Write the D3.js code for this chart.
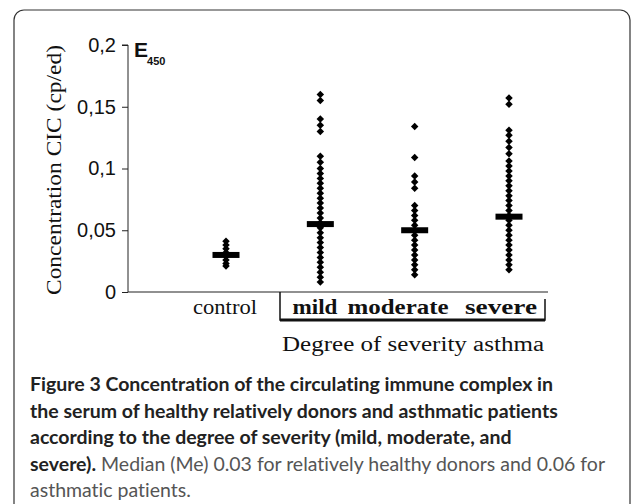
<!DOCTYPE html>
<html>
<head>
<meta charset="utf-8">
<script src="https://cdn.jsdelivr.net/npm/d3@7"></script>
<style>
  body { margin: 0; background: #fff; }
  svg { display: block; }
</style>
</head>
<body>
<div id="chart"></div>
<script>
// groups on the x axis
var groups = ["control", "mild", "moderate", "severe"];

// individual values
var control = [0.041, 0.038, 0.035, 0.032, 0.029, 0.026, 0.023, 0.021];
var mild = [0.16, 0.155, 0.14, 0.135, 0.13, 0.11, 0.105, 0.1, 0.096, 0.092, 0.088,
  0.084, 0.08, 0.076, 0.072, 0.068, 0.064, 0.06, 0.056, 0.052, 0.048, 0.044,
  0.04, 0.036, 0.032, 0.028, 0.024, 0.02, 0.016, 0.012, 0.008];
var moderate = [0.134, 0.109, 0.094, 0.089, 0.084, 0.07, 0.066, 0.062, 0.058,
  0.054, 0.05, 0.046, 0.042, 0.038, 0.034, 0.03, 0.026, 0.022, 0.018, 0.014];
var severe = [0.157, 0.152, 0.131, 0.127, 0.122, 0.117, 0.112, 0.106, 0.102,
  0.098, 0.094, 0.09, 0.086, 0.082, 0.078, 0.074, 0.07, 0.066, 0.062, 0.058,
  0.054, 0.05, 0.046, 0.042, 0.038, 0.034, 0.03, 0.026, 0.022, 0.018];

// medians drawn as crosses
var medians = [0.03, 0.055, 0.05, 0.061];

var yTicks = [0, 0.05, 0.1, 0.15, 0.2];

// label centres / widths under the axis (the source image is stretched sideways)
var labelX = [225, 315, 398, 501];
var labelW = [64, 45, 101, 72];

var series = [control, mild, moderate, severe];

var w = 635, h = 504;
var svg = d3.select("#chart").append("svg")
    .attr("width", w)
    .attr("height", h);

// frame around figure + caption
svg.append("rect")
    .attr("x", 14).attr("y", 10)
    .attr("width", 616).attr("height", 510)
    .attr("rx", 10)
    .attr("fill", "none")
    .attr("stroke", "#333")
    .attr("stroke-width", 1.2);

var y = d3.scaleLinear().domain([0, 0.2]).range([292, 45]);
var x = d3.scalePoint().domain(groups).range([226, 509]);

var yAxis = d3.axisLeft(y)
    .tickValues(yTicks)
    .tickSize(6)
    .tickPadding(6)
    .tickFormat(function(d) { return String(d).replace(".", ","); });

var gy = svg.append("g")
    .attr("transform", "translate(128,0)")
    .call(yAxis);
gy.select(".domain").attr("stroke", "#222").attr("d", "M-6,45H0V292");
gy.selectAll(".tick line").attr("stroke", "#222");
gy.selectAll("text")
    .attr("font-family", "Liberation Sans, Arial, sans-serif")
    .attr("font-size", 20)
    .attr("fill", "#111");

// x baseline
svg.append("line")
    .attr("x1", 128).attr("x2", 548)
    .attr("y1", 292).attr("y2", 292)
    .attr("stroke", "#222").attr("stroke-width", 1.2);

// box around the asthma groups
svg.append("path")
    .attr("d", "M280,292V320H545V299")
    .attr("fill", "none")
    .attr("stroke", "#111")
    .attr("stroke-width", 1.5);
svg.append("line")
    .attr("x1", 280).attr("x2", 545)
    .attr("y1", 320).attr("y2", 320)
    .attr("stroke", "#111").attr("stroke-width", 3);

// y label
svg.append("text")
    .attr("transform", "translate(61,170) rotate(-90)")
    .attr("text-anchor", "middle")
    .attr("font-family", "Liberation Serif, Times New Roman, serif")
    .attr("font-size", 21)
    .attr("textLength", 250)
    .attr("lengthAdjust", "spacingAndGlyphs")
    .attr("fill", "#111")
    .text("Concentration CIC (cp/ed)");

// E450 unit label
var e = svg.append("text")
    .attr("x", 134).attr("y", 57)
    .attr("font-family", "Liberation Sans, Arial, sans-serif")
    .attr("font-weight", "bold")
    .attr("fill", "#111");
e.append("tspan").attr("font-size", 21).text("E");
e.append("tspan").attr("dy", 8).attr("dx", -1).attr("font-size", 11).text("450");

// dots: small squares turned 45 degrees
var diamond = d3.symbol().type(d3.symbolSquare).size(28);
groups.forEach(function(g, i) {
  svg.append("g").selectAll("path")
      .data(series[i])
    .enter().append("path")
      .attr("d", diamond)
      .attr("transform", function(d) { return "translate(" + x(g) + "," + y(d) + ") rotate(45)"; })
      .attr("fill", "#000");
});

// median crosses
svg.append("g").selectAll("rect")
    .data(medians)
  .enter().append("rect")
    .attr("x", function(d, i) { return x(groups[i]) - 13.5; })
    .attr("y", function(d) { return y(d) - 3; })
    .attr("width", 27)
    .attr("height", 6)
    .attr("fill", "#000");

// category labels
svg.append("g").selectAll("text")
    .data(groups)
  .enter().append("text")
    .attr("x", function(d, i) { return labelX[i]; })
    .attr("y", 314)
    .attr("text-anchor", "middle")
    .attr("font-family", "Liberation Serif, Times New Roman, serif")
    .attr("font-size", 20)
    .attr("textLength", function(d, i) { return labelW[i]; })
    .attr("lengthAdjust", "spacingAndGlyphs")
    .attr("font-weight", function(d) { return d === "control" ? "normal" : "bold"; })
    .attr("fill", "#111")
    .text(function(d) { return d; });

svg.append("text")
    .attr("x", 413).attr("y", 351)
    .attr("text-anchor", "middle")
    .attr("font-family", "Liberation Serif, Times New Roman, serif")
    .attr("font-size", 20)
    .attr("textLength", 262)
    .attr("lengthAdjust", "spacingAndGlyphs")
    .attr("fill", "#111")
    .text("Degree of severity asthma");

// caption
var capLines = [
  [["Figure 3 Concentration of the circulating immune complex in", true]],
  [["the serum of healthy relatively donors and asthmatic patients", true]],
  [["according to the degree of severity (mild, moderate, and", true]],
  [["severe).", true], [" Median (Me) 0.03 for relatively healthy donors and 0.06 for", false]],
  [["asthmatic patients.", false]]
];
capLines.forEach(function(line, i) {
  var t = svg.append("text")
      .attr("x", 30)
      .attr("y", 391 + i * 26.5)
      .attr("font-family", "Lato, Open Sans, sans-serif")
      .attr("font-size", 19.5)
      .style("font-variant-ligatures", "none");
  line.forEach(function(seg) {
    t.append("tspan")
        .attr("font-weight", seg[1] ? "bold" : "normal")
        .attr("fill", seg[1] ? "#222" : "#555")
        .text(seg[0]);
  });
});
</script>
</body>
</html>
